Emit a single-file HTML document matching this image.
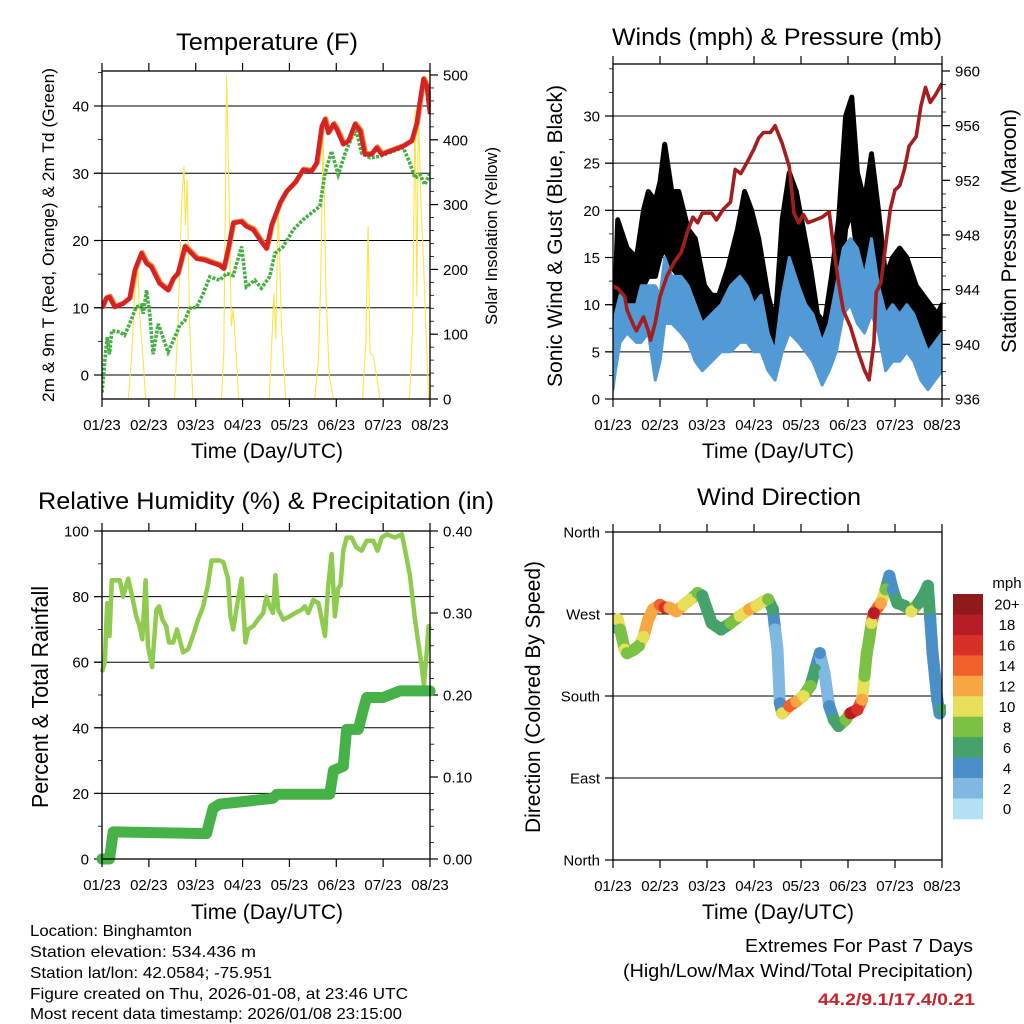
<!DOCTYPE html>
<html><head><meta charset="utf-8"><style>
html,body{margin:0;padding:0;background:#fff;}
svg{display:block;font-family:"Liberation Sans",sans-serif;}
</style></head><body>
<svg id="chart" width="1024" height="1024" viewBox="0 0 1024 1024" xmlns="http://www.w3.org/2000/svg">
<rect x="0" y="0" width="1024" height="1024" fill="#fff"/>
<text x="267" y="50" font-size="24" text-anchor="middle" textLength="182" lengthAdjust="spacingAndGlyphs">Temperature (F)</text>
<text x="777" y="45" font-size="24" text-anchor="middle" textLength="330" lengthAdjust="spacingAndGlyphs">Winds (mph) &amp; Pressure (mb)</text>
<text x="266" y="509" font-size="24" text-anchor="middle" textLength="456" lengthAdjust="spacingAndGlyphs">Relative Humidity (%) &amp; Precipitation (in)</text>
<text x="779" y="505" font-size="24" text-anchor="middle" textLength="164" lengthAdjust="spacingAndGlyphs">Wind Direction</text>

<text x="267" y="458" font-size="21" text-anchor="middle" textLength="152" lengthAdjust="spacingAndGlyphs">Time (Day/UTC)</text>
<text x="778" y="458" font-size="21" text-anchor="middle" textLength="152" lengthAdjust="spacingAndGlyphs">Time (Day/UTC)</text>
<text x="267" y="919" font-size="21" text-anchor="middle" textLength="152" lengthAdjust="spacingAndGlyphs">Time (Day/UTC)</text>
<text x="778" y="919" font-size="21" text-anchor="middle" textLength="152" lengthAdjust="spacingAndGlyphs">Time (Day/UTC)</text>

<text transform="translate(54,235) rotate(-90)" font-size="17" text-anchor="middle" textLength="334" lengthAdjust="spacingAndGlyphs">2m &amp; 9m T (Red, Orange) &amp; 2m Td (Green)</text>
<text transform="translate(497,236) rotate(-90)" font-size="17" text-anchor="middle" textLength="178" lengthAdjust="spacingAndGlyphs">Solar Insolation (Yellow)</text>
<text transform="translate(562,236) rotate(-90)" font-size="21" text-anchor="middle" textLength="302" lengthAdjust="spacingAndGlyphs">Sonic Wind &amp; Gust (Blue, Black)</text>
<text transform="translate(1016,231) rotate(-90)" font-size="21" text-anchor="middle" textLength="244" lengthAdjust="spacingAndGlyphs">Station Pressure (Maroon)</text>
<text transform="translate(48,697) rotate(-90)" font-size="23" text-anchor="middle" textLength="222" lengthAdjust="spacingAndGlyphs">Percent &amp; Total Rainfall</text>
<text transform="translate(540,697) rotate(-90)" font-size="21" text-anchor="middle" textLength="272" lengthAdjust="spacingAndGlyphs">Direction (Colored By Speed)</text>

<g font-size="16">
<text x="30" y="936" textLength="162" lengthAdjust="spacingAndGlyphs">Location: Binghamton</text>
<text x="30" y="957" textLength="226" lengthAdjust="spacingAndGlyphs">Station elevation: 534.436 m</text>
<text x="30" y="978" textLength="242" lengthAdjust="spacingAndGlyphs">Station lat/lon: 42.0584; -75.951</text>
<text x="30" y="999" textLength="378" lengthAdjust="spacingAndGlyphs">Figure created on Thu, 2026-01-08, at 23:46 UTC</text>
<text x="30" y="1019" textLength="372" lengthAdjust="spacingAndGlyphs">Most recent data timestamp: 2026/01/08 23:15:00</text>
</g>
<text x="973" y="952" font-size="18" text-anchor="end" textLength="228" lengthAdjust="spacingAndGlyphs">Extremes For Past 7 Days</text>
<text x="973" y="977" font-size="18" text-anchor="end" textLength="350" lengthAdjust="spacingAndGlyphs">(High/Low/Max Wind/Total Precipitation)</text>
<text x="975" y="1005" font-size="17" font-weight="bold" fill="#c4252c" text-anchor="end" textLength="157" lengthAdjust="spacingAndGlyphs">44.2/9.1/17.4/0.21</text>
<text x="1007" y="588" font-size="15" text-anchor="middle">mph</text>
</svg>
<script>
// ---------- data ----------
const dayLabels = ["01/23","02/23","03/23","04/23","05/23","06/23","07/23","08/23"];
const tempTicks = [0,10,20,30,40];
const solarTicks = [0,100,200,300,400,500];
const windTicks = [0,5,10,15,20,25,30];
const presTicks = [936,940,944,948,952,956,960];
const rhTicks = [0,20,40,60,80,100];
const rainTicks = [0,0.1,0.2,0.3,0.4];
const rainTickLabels = ["0.00","0.10","0.20","0.30","0.40"];
const dirTicks = [0,90,180,270,360];
const dirTickLabels = ["North","East","South","West","North"];

const tempDays = [0,.09,.16,.27,.45,.59,.70,.84,.95,1.05,1.23,1.41,1.52,1.62,1.77,1.91,2.02,2.19,2.30,2.51,2.60,2.69,2.80,2.98,3.08,3.23,3.40,3.51,3.62,3.80,3.94,4.12,4.29,4.47,4.58,4.69,4.76,4.83,4.94,5.01,5.15,5.26,5.40,5.51,5.61,5.75,5.86,5.97,6.15,6.43,6.61,6.72,6.77,6.86,6.93,7.0];
const tempValues = [9.9,11.4,11.6,10.1,10.6,11.4,15.6,18.1,16.6,16.1,13.6,12.6,14.3,15.1,19.1,18.1,17.3,17.1,16.8,16.3,15.8,18.6,22.6,22.8,22.1,21.6,19.8,18.8,22.3,25.6,27.3,28.6,30.5,30.3,31.5,37.0,38.0,36.0,37.3,36.5,34.3,34.8,37.3,36.3,32.8,32.8,33.8,32.8,33.3,34.0,34.8,37.5,40.0,44.0,43.0,38.8];
const dewDays = [0,.06,.11,.16,.21,.38,.48,.59,.73,.84,.88,.95,1.02,1.09,1.20,1.30,1.41,1.52,1.66,1.77,1.87,2.02,2.16,2.30,2.51,2.66,2.80,2.98,3.08,3.26,3.40,3.58,3.69,3.87,4.08,4.29,4.51,4.65,4.76,4.90,5.04,5.19,5.33,5.43,5.54,5.72,5.93,6.22,6.43,6.57,6.68,6.79,6.89,7.0];
const dewValues = [-2.6,2.1,5.6,3.1,6.6,6.4,5.9,7.6,10.1,10.4,9.1,12.6,9.1,3.1,7.6,5.6,3.4,5.1,7.4,8.1,9.9,10.1,12.1,14.6,14.1,15.1,14.8,19.1,13.1,14.1,12.9,14.6,18.1,19.1,21.6,23.1,24.3,25.1,30.0,33.3,29.8,33.0,35.3,36.3,33.0,32.3,32.5,33.3,33.8,31.5,29.3,29.8,28.3,30.0];
const solarDays = [.56,.63,.70,.77,.80,.88,.93, 1.55,1.62,1.70,1.75,1.78,1.82,1.87,1.94, 2.55,2.60,2.66,2.71,2.76,2.80,2.87,2.92, 3.57,3.62,3.67,3.71,3.76,3.83,3.92, 4.54,4.62,4.67,4.72,4.78,4.85,4.94, 5.56,5.63,5.68,5.72,5.79,5.86,5.93, 6.56,6.63,6.68,6.72,6.75,6.80,6.86,6.97];
const solarValues = [0,61,164,200,133,61,0, 0,112,303,360,268,338,112,0, 0,71,500,317,112,138,61,0, 0,81,164,92,303,112,0, 0,61,189,411,164,35,0, 0,86,267,71,66,35,0, 0,112,447,158,447,318,215,0];

const gustDays = [0,.05,.1,.3,.5,.65,.75,.9,1.0,1.1,1.25,1.4,1.6,1.75,1.95,2.1,2.25,2.45,2.65,2.8,2.95,3.1,3.3,3.45,3.6,3.75,3.9,4.05,4.2,4.35,4.5,4.65,4.8,4.95,5.08,5.2,5.35,5.5,5.65,5.8,5.95,6.1,6.25,6.45,6.6,6.75,6.9,7.0];
const gustLow = [3,6,9,10,10,12,13,13,15,16,14,13,10,9,8,7,7,9,11,12,11,10,6,4,10,14,13,10,8,6,5,7,10,18,20,15,14,16,12,8,7,8,8,6,6,5,5,6];
const gustHigh = [8,12,19,16,15,20,22,21,23,27,22,22,18,17,12,11,11,14,18,22,20,17,11,8,19,24,22,18,14,9,8,13,19,30,32,24,21,26,20,13,15,16,15,12,11,10,9,10];
const windDays = [0,.05,.15,.3,.5,.6,.75,.9,1.0,1.1,1.25,1.45,1.6,1.75,1.9,2.1,2.3,2.5,2.7,2.85,3.0,3.15,3.3,3.45,3.6,3.75,3.95,4.1,4.25,4.45,4.6,4.75,4.9,5.05,5.2,5.35,5.5,5.65,5.8,5.95,6.1,6.25,6.4,6.55,6.7,6.85,7.0];
const windLow = [1,3,6,7,6,6,7,2,4,8,8,7,6,4,3,4,5,5,6,6,5,5,3,2,5,7,6,5,4,1.5,3,5,9,10,8,7,9,7,3,4,4,5,4,2,1,2,3];
const windHigh = [4,9,11,10,10,12,12,12,11,15,13,13,12,10,8,9,10,12,13,12,10,11,7,5,11,15,12,10,9,6,8,12,16,17,16,13,17,12,9,10,9,10,9,7,5,6,7];
const presDays = [0,.1,.25,.3,.45,.5,.65,.75,.8,.9,1.0,1.15,1.3,1.45,1.6,1.7,1.8,1.9,2.1,2.2,2.35,2.5,2.6,2.72,2.85,3.0,3.1,3.2,3.35,3.45,3.6,3.75,3.85,3.95,4.05,4.15,4.3,4.45,4.6,4.7,4.8,4.9,5.05,5.2,5.35,5.45,5.55,5.6,5.7,5.8,5.9,6.0,6.1,6.2,6.3,6.45,6.55,6.65,6.75,6.85,7.0];
const presValues = [944.25,944.1,943.5,942.5,941.3,941,942,941,940.3,941.6,943.5,945,946,946.7,948.4,949.3,948.9,949.6,949.6,949.1,949.9,950.4,952.8,952.5,953.3,954.3,955.1,955.5,955.5,956,954.7,953,949.6,948.9,949.5,948.9,949.1,949.3,949.7,946.9,944.5,942.5,941.3,939.6,938.1,937.4,940.1,943.8,944.5,947.2,949.9,951.3,951.6,952.8,954.5,955.2,957.4,958.8,957.7,958.2,959.1];

const rhDays = [0,.06,.11,.16,.21,.31,.38,.45,.56,.66,.73,.80,.86,.93,.98,1.07,1.16,1.22,1.29,1.37,1.43,1.52,1.60,1.73,1.84,1.94,2.05,2.16,2.26,2.34,2.51,2.59,2.69,2.74,2.80,2.88,2.98,3.06,3.12,3.23,3.33,3.44,3.51,3.58,3.65,3.70,3.76,3.87,4.01,4.12,4.26,4.33,4.40,4.51,4.62,4.69,4.76,4.83,4.90,4.97,5.04,5.09,5.15,5.22,5.33,5.43,5.54,5.65,5.79,5.88,5.97,6.08,6.25,6.40,6.47,6.57,6.68,6.75,6.82,6.87,6.93,6.97,7.0];
const rhValues = [57,60,78,68,85,85,85,80,85.5,79,74,71,67,85,65,58.5,76,77,73,71,66,66,70,63,64,68,73,77,83.5,91,91,90.5,85.5,74,70,77,85.5,66,70,71,73,75,80,77,75,86.5,76,73,74,75,76,77,75,79,78,73,68,83.5,93,74,82.5,83.5,94,98,98,95,94,97,97,94,98,99,98,99,94,86.5,73,66,59,53,63,71,70];
const rainDays = [0,.16,.24,2.23,2.37,2.51,3.01,3.65,3.73,4.86,4.94,5.15,5.22,5.47,5.58,5.65,6.0,6.36,7.0];
const rainValues = [0,0,.033,.031,.062,.067,.07,.074,.079,.079,.108,.113,.158,.158,.183,.197,.197,.205,.205];

const dirDays = [0,.1,.15,.25,.3,.45,.55,.65,.75,.85,1.0,1.1,1.2,1.35,1.5,1.65,1.8,1.9,2.0,2.1,2.3,2.5,2.7,2.9,3.05,3.2,3.3,3.4,3.45,3.5,3.55,3.6,3.75,3.9,4.05,4.2,4.3,4.4,4.5,4.6,4.7,4.8,4.95,5.05,5.2,5.3,5.35,5.4,5.45,5.5,5.55,5.7,5.8,5.88,5.95,6.05,6.2,6.35,6.5,6.6,6.7,6.75,6.8,6.85,6.9,6.95,7.0];
const dirValues = [255,264,253,231,227,231,235,245,264,275,280,277,277,273,280,286,293,290,275,260,253,260,268,275,279,284,286,275,253,231,172,161,169,174,180,191,209,227,205,169,154,147,154,161,165,176,202,227,242,260,271,282,297,312,297,282,279,273,282,290,301,264,227,202,176,161,165];
const dirSpeeds = [4,10,8,9,8,8,8,10,12,12,13,16,12,12,10,9,7,5,5,6,6,7,9,12,10,10,8,5,2,2,3,9,14,12,9,7,5,4,1,3,6,6,8,17,15,11,8,8,7,10,17,12,8,4,4,6,6,9,5,5,6,4,4,3,3,4,6];
const speedLevels = ["0","2","4","6","8","10","12","14","16","18","20+"];
const speedColors = ["#b3e0f5","#7fb9e2","#4a8fc8","#45a26b","#7bc143","#e7df5a","#f7a644","#f0612c","#d73027","#b81d25","#8e1a1b"];

// ---------- helpers ----------
const NS = "http://www.w3.org/2000/svg";
const svg = document.getElementById("chart");
function mk(tag, attrs, parent) {
  const e = document.createElementNS(NS, tag);
  for (const k in attrs) e.setAttribute(k, attrs[k]);
  (parent || svg).appendChild(e);
  return e;
}
function linScale(d0, d1, r0, r1) { return v => r0 + (v - d0) * (r1 - r0) / (d1 - d0); }

const panels = {
  temp: {x0:102, x1:430, top:71, bot:399},
  wind: {x0:613, x1:942, top:64, bot:399},
  rh:   {x0:102, x1:430, top:531, bot:859},
  dir:  {x0:613, x1:942, top:532, bot:860}
};
for (const k in panels) { const p = panels[k]; p.x = linScale(0, 7, p.x0, p.x1); }
const tY = linScale(0, 40, 375, 106);
const sY = linScale(0, 500, 399, 75);
const wY = linScale(0, 30, 399, 116);
const pY = linScale(936, 960, 399, 71);
const hY = linScale(0, 100, 859, 531);
const rY = linScale(0, 0.4, 859, 531);
const dY = linScale(0, 360, 860, 532);

function pathFrom(xs, ys, xf, yf) {
  return xs.map((d, i) => (i ? "L" : "M") + xf(d).toFixed(1) + "," + yf(ys[i]).toFixed(1)).join("");
}

function frame(p, name) {
  const g = mk("g", {});
  
  
  const r = mk("rect", {x:p.x0, y:p.top, width:p.x1 - p.x0, height:p.bot - p.top, fill:"none", stroke:"#000", "stroke-width":1.3}, g);
  
  
  dayLabels.forEach((lab, i) => {
    const x = p.x(i);
    const t1 = mk("line", {x1:x, x2:x, y1:p.top - 8, y2:p.top, stroke:"#000", "stroke-width":1.2}, g);
    
    
    const t2 = mk("line", {x1:x, x2:x, y1:p.bot, y2:p.bot + 8, stroke:"#000", "stroke-width":1.2}, g);
    
    
    const tx = mk("text", {x:x, y:p.bot + 31, "font-size":15, "text-anchor":"middle"}, g);
    tx.textContent = lab;
    
    
  });
  return g;
}
function yAxis(p, ticks, labels, yf, side, minorStep, lo, hi, grid) {
  const g = mk("g", {});
  
  
  const xa = side === "left" ? p.x0 : p.x1;
  const dir = side === "left" ? -1 : 1;
  if (minorStep) {
    for (let v = lo; v <= hi + 1e-9; v += minorStep) {
      const y = yf(v);
      if (y < p.top - 1 || y > p.bot + 1) continue;
      const m = mk("line", {x1:xa, x2:xa + dir * 4, y1:y, y2:y, stroke:"#000", "stroke-width":0.8}, g);
      
      
    }
  }
  ticks.forEach((v, i) => {
    const y = yf(v);
    if (grid) {
      const gl = mk("line", {x1:p.x0 - (side === "left" ? 8 : 0), x2:p.x1 + (side === "right" ? 8 : 0), y1:y, y2:y, stroke:"#000", "stroke-width":1}, g);
      
      
    }
    const t = mk("line", {x1:xa, x2:xa + dir * 8, y1:y, y2:y, stroke:"#000", "stroke-width":1.2}, g);
    
    
    const tx = mk("text", {x:xa + dir * 13, y:y + 5.5, "font-size":15, "text-anchor":side === "left" ? "end" : "start"}, g);
    tx.textContent = labels[i];
    
    
  });
}

// ---------- Panel 1: temperature ----------
(function () {
  const p = panels.temp;
  const clip = mk("clipPath", {id:"c1"}); mk("rect", {x:p.x0, y:p.top, width:p.x1 - p.x0, height:p.bot - p.top}, clip);
  yAxis(p, tempTicks, tempTicks.map(String), tY, "left", 5, -5, 45, true);
  yAxis(p, solarTicks, solarTicks.map(String), sY, "right", 20, 0, 500, false);
  const solar = mk("path", {d:pathFrom(solarDays, solarValues, p.x, sY), fill:"none", stroke:"#fde34a", "stroke-width":1.1, "clip-path":"url(#c1)"});
  
  
  const dew = mk("path", {d:pathFrom(dewDays, dewValues, p.x, tY), fill:"none", stroke:"#45b043", "stroke-width":3.6, "stroke-dasharray":"3 1.4", "clip-path":"url(#c1)"});
  
  
  const t9 = mk("path", {d:pathFrom(tempDays, tempValues, p.x, tY), fill:"none", stroke:"#f08a2c", "stroke-width":5, "stroke-linejoin":"round", transform:"translate(0.8,-0.8)", "clip-path":"url(#c1)"});
  
  
  const t2 = mk("path", {d:pathFrom(tempDays, tempValues, p.x, tY), fill:"none", stroke:"#d42227", "stroke-width":4.5, "stroke-linejoin":"round", "clip-path":"url(#c1)"});
  
  
  frame(p, "temperature");
})();

// ---------- Panel 2: winds & pressure ----------
(function () {
  const p = panels.wind;
  const clip = mk("clipPath", {id:"c2"}); mk("rect", {x:p.x0, y:p.top, width:p.x1 - p.x0, height:p.bot - p.top}, clip);
  yAxis(p, windTicks, windTicks.map(String), wY, "left", 2.5, 0, 35, true);
  yAxis(p, presTicks, presTicks.map(String), pY, "right", 1, 936, 960, false);
  const band = (days, lo, hi) => pathFrom(days, hi, p.x, wY) + days.slice().reverse().map((d, i) => "L" + p.x(d).toFixed(1) + "," + wY(lo[lo.length - 1 - i]).toFixed(1)).join("") + "Z";
  const gust = mk("path", {d:band(gustDays, gustLow, gustHigh), fill:"#000", stroke:"#000", "stroke-width":5, "stroke-linejoin":"round", "clip-path":"url(#c2)"});
  
  
  const wind = mk("path", {d:band(windDays, windLow, windHigh), fill:"#519ad6", stroke:"#519ad6", "stroke-width":3, "stroke-linejoin":"round", "clip-path":"url(#c2)"});
  
  
  const pres = mk("path", {d:pathFrom(presDays, presValues, p.x, pY), fill:"none", stroke:"#a51d1d", "stroke-width":3.6, "stroke-linejoin":"round", "clip-path":"url(#c2)"});
  
  
  frame(p, "winds");
})();

// ---------- Panel 3: RH & precipitation ----------
(function () {
  const p = panels.rh;
  yAxis(p, rhTicks, rhTicks.map(String), hY, "left", 10, 0, 100, true);
  yAxis(p, rainTicks, rainTickLabels, rY, "right", 0.02, 0, 0.4, false);
  const rh = mk("path", {d:pathFrom(rhDays, rhValues, p.x, hY), fill:"none", stroke:"#8fcb4f", "stroke-width":4.5, "stroke-linejoin":"round"});
  
  
  const rain = mk("path", {d:pathFrom(rainDays, rainValues, p.x, rY), fill:"none", stroke:"#45b146", "stroke-width":11, "stroke-linejoin":"round", "stroke-linecap":"round"});
  
  
  frame(p, "humidity");
})();

// ---------- Panel 4: wind direction ----------
(function () {
  const p = panels.dir;
  const clip = mk("clipPath", {id:"c4"}); mk("rect", {x:p.x0, y:p.top - 6, width:p.x1 - p.x0 + 4, height:p.bot - p.top + 12}, clip);
  yAxis(p, dirTicks, dirTickLabels, dY, "left", 0, 0, 0, true);
  const colorFor = s => speedColors[Math.min(10, Math.max(0, Math.round(s / 2)))];
  const g = mk("g", {"clip-path":"url(#c4)"});
  
  
  for (let i = 1; i < dirDays.length; i++) {
    const seg = mk("line", {x1:p.x(dirDays[i - 1]), y1:dY(dirValues[i - 1]), x2:p.x(dirDays[i]), y2:dY(dirValues[i]), stroke:colorFor((dirSpeeds[i] + dirSpeeds[i - 1]) / 2), "stroke-width":12, "stroke-linecap":"round"}, g);
    
    
  }
  dirDays.forEach((d, i) => {
    const c = mk("circle", {cx:p.x(d), cy:dY(dirValues[i]), r:6, fill:colorFor(dirSpeeds[i])}, g);
    
    
  });
  frame(p, "direction");
  // colorbar
  const cb = mk("g", {});
  
  
  const n = speedLevels.length, h = 20.45;
  for (let i = 0; i < n; i++) {
    const idx = n - 1 - i;
    const r = mk("rect", {x:953, y:594 + i * h, width:30, height:h + 0.3, fill:speedColors[idx]}, cb);
    
    
    const t = mk("text", {x:1007, y:594 + i * h + h / 2 + 5.5, "font-size":15, "text-anchor":"middle"}, cb);
    t.textContent = speedLevels[idx];
    
    
  }
})();
</script>
</body></html>
